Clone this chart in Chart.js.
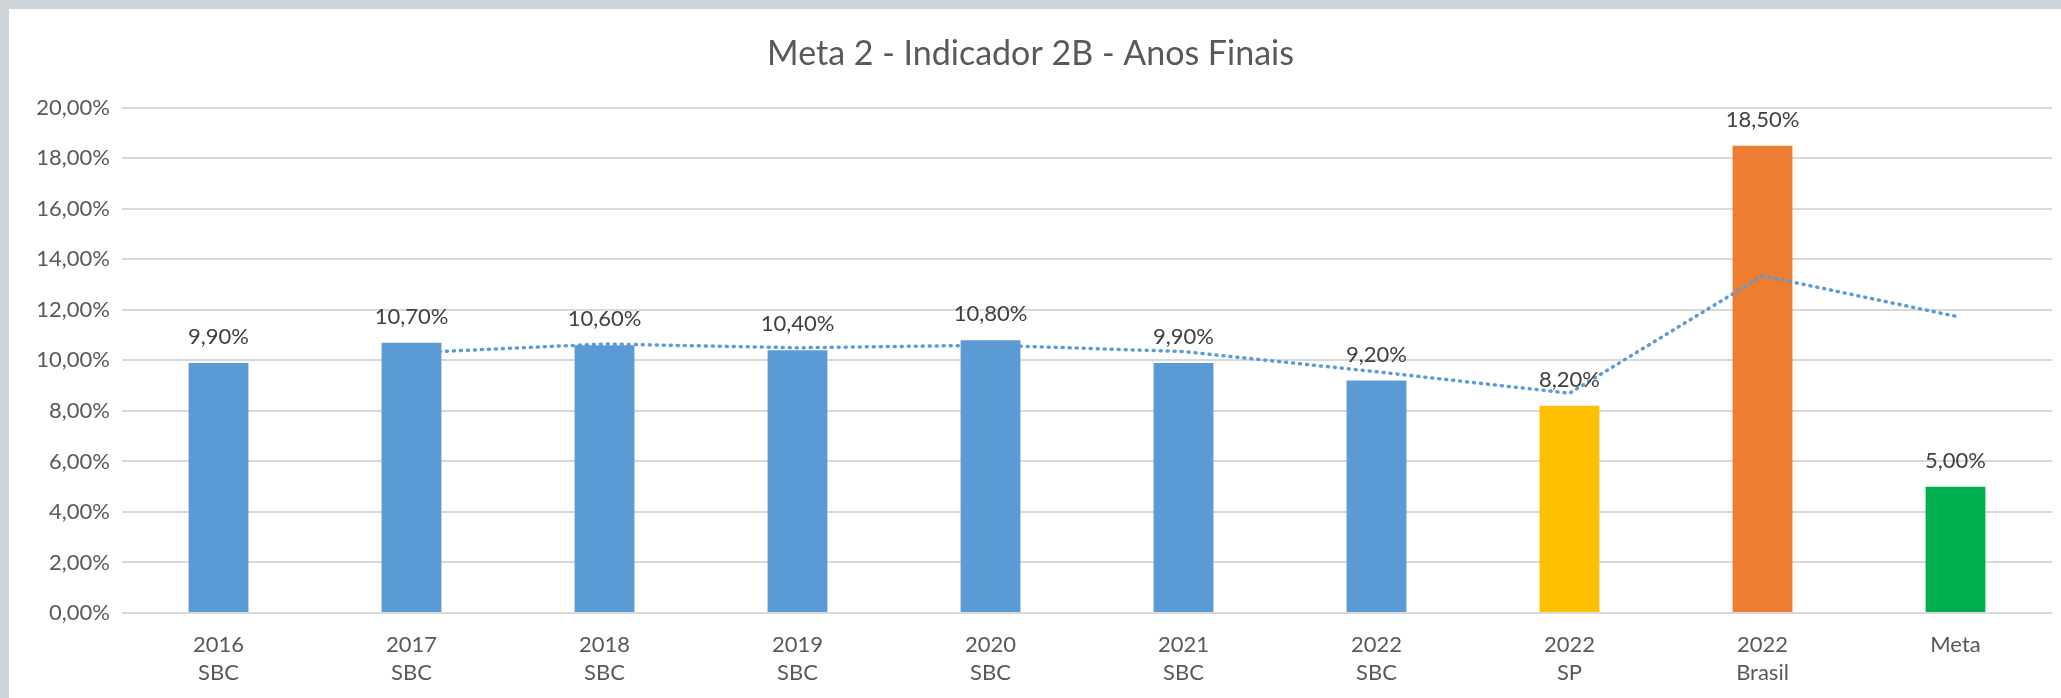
<!DOCTYPE html>
<html lang="pt-BR">
<head>
    <meta charset="UTF-8">
    <title>Meta 2 - Indicador 2B - Anos Finais</title>
    <script src="https://cdn.jsdelivr.net/npm/chart.js"></script>
    <style>
        html, body { margin: 0; padding: 0; background: #ced4d9; overflow: hidden; }
        #panel { position: absolute; left: 9px; top: 9px; width: 2052px; height: 689px; background: #fff; }
    </style>
</head>
<body>
<div id="panel">
    <canvas id="chart" width="2052" height="689"></canvas>
</div>
<script>
// Dados do gráfico
const categories = [
    ['2016', 'SBC'], ['2017', 'SBC'], ['2018', 'SBC'], ['2019', 'SBC'], ['2020', 'SBC'],
    ['2021', 'SBC'], ['2022', 'SBC'], ['2022', 'SP'], ['2022', 'Brasil'], ['Meta']
];
const values = [9.9, 10.7, 10.6, 10.4, 10.8, 9.9, 9.2, 8.2, 18.5, 5.0];
// linha pontilhada (média móvel de 2 períodos)
const trendValues = [null, 10.3, 10.65, 10.5, 10.6, 10.35, 9.55, 8.7, 13.35, 11.75];
const barColors = ['#5b9bd5', '#5b9bd5', '#5b9bd5', '#5b9bd5', '#5b9bd5', '#5b9bd5', '#5b9bd5', '#ffc000', '#ed7d31', '#00b050'];
const yTicks = [0, 2, 4, 6, 8, 10, 12, 14, 16, 18, 20];

const FONT = 'Lato, "Open Sans", sans-serif';
const fmt = v => v.toFixed(2).replace('.', ',') + '%';

// rótulos de dados acima das barras
const barLabels = {
    id: 'barLabels',
    afterDatasetsDraw(chart) {
        const ctx = chart.ctx;
        const meta = chart.getDatasetMeta(0);
        ctx.save();
        ctx.font = '22px ' + FONT;
        ctx.fillStyle = '#404040';
        ctx.textAlign = 'center';
        ctx.textBaseline = 'middle';
        meta.data.forEach((bar, i) => {
            ctx.fillText(fmt(values[i]), bar.x, bar.y - 26);
        });
        ctx.restore();
    }
};

new Chart(document.getElementById('chart').getContext('2d'), {
    type: 'bar',
    data: {
        labels: categories,
        datasets: [{
            type: 'bar',
            data: values,
            backgroundColor: barColors,
            categoryPercentage: 1,
            barPercentage: 0.31,
            order: 2
        }, {
            type: 'line',
            data: trendValues,
            borderColor: '#5b9bd5',
            borderWidth: 3.5,
            borderDash: [1, 6],
            borderCapStyle: 'round',
            pointRadius: 0,
            tension: 0,
            spanGaps: false,
            order: 1
        }]
    },
    options: {
        responsive: false,
        animation: false,
        layout: { padding: { left: 0, right: 9, top: 0, bottom: 0 } },
        plugins: {
            legend: { display: false },
            tooltip: { enabled: false },
            title: {
                display: true,
                text: 'Meta 2 - Indicador 2B - Anos Finais',
                color: '#595959',
                font: { family: FONT, size: 34, weight: 'normal' },
                padding: { top: 25, bottom: 33 }
            }
        },
        scales: {
            x: {
                afterFit(scale) { scale.height = 85; },
                grid: { display: false },
                border: { display: false },
                ticks: {
                    color: '#595959',
                    font: { family: FONT, size: 22, lineHeight: 1.27 },
                    padding: 10,
                    maxRotation: 0
                }
            },
            y: {
                min: 0,
                max: 20,
                afterBuildTicks(scale) { scale.ticks = yTicks.map(v => ({ value: v })); },
                afterFit(scale) { scale.width = 113; },
                grid: { color: '#d9d9d9', lineWidth: 2, drawTicks: false },
                border: { display: false },
                ticks: {
                    color: '#595959',
                    font: { family: FONT, size: 22 },
                    padding: 12,
                    callback: v => fmt(v)
                }
            }
        }
    },
    plugins: [barLabels]
});
</script>
</body>
</html>
